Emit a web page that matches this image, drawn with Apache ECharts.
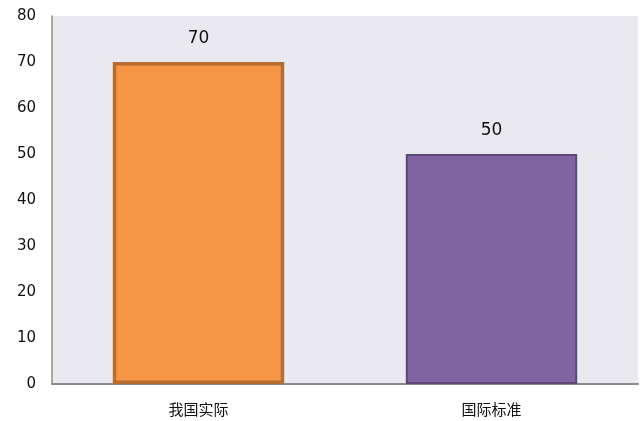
<!DOCTYPE html>
<html>
<head>
<meta charset="utf-8">
<script src="https://cdn.jsdelivr.net/npm/echarts@6/dist/echarts.min.js"></script>
<style>
  html, body { margin: 0; padding: 0; background: #fff; }
  #chart { width: 642px; height: 421px; }
</style>
</head>
<body>
<div id="chart"></div>
<script>
// 数据
const categories = ['我国实际', '国际标准']
const values = [70, 50]
const fillColors = ['#f79646', '#8064a2']
const borderColors = ['#b66d31', '#5c4776']
const yTicks = { min: 0, max: 80, interval: 10 }

const chart = echarts.init(document.getElementById('chart'))

const option = {
  animation: false,
  grid: { left: 52, right: 4, top: 16, bottom: 37, show: true, backgroundColor: '#ebe9f0', borderWidth: 0 },
  xAxis: {
    type: 'category',
    data: categories,
    axisLine: { lineStyle: { color: '#8c8c8c', width: 2 } },
    axisTick: { show: false },
    axisLabel: { color: '#111', fontSize: 15, margin: 18, fontFamily: 'Noto Sans CJK SC' },
  },
  yAxis: {
    type: 'value',
    min: yTicks.min,
    max: yTicks.max,
    interval: yTicks.interval,
    axisLine: { show: true, lineStyle: { color: '#8c8c8c', width: 1.5 } },
    axisTick: { show: false },
    splitLine: { show: false },
    axisLabel: { color: '#111', fontSize: 15, margin: 16, fontFamily: 'DejaVu Sans' },
  },
  series: [
    {
      type: 'bar',
      barWidth: '58.5%',
      data: values.map((v, i) => ({
        value: v,
        itemStyle: { color: fillColors[i], borderColor: borderColors[i], borderWidth: i === 0 ? 3.5 : 2 },
      })),
      label: {
        show: true,
        position: 'top',
        distance: 15,
        color: '#111',
        fontSize: 17,
        fontFamily: 'DejaVu Sans',
      },
    },
  ],
}

chart.setOption(option)
</script>
</body>
</html>
